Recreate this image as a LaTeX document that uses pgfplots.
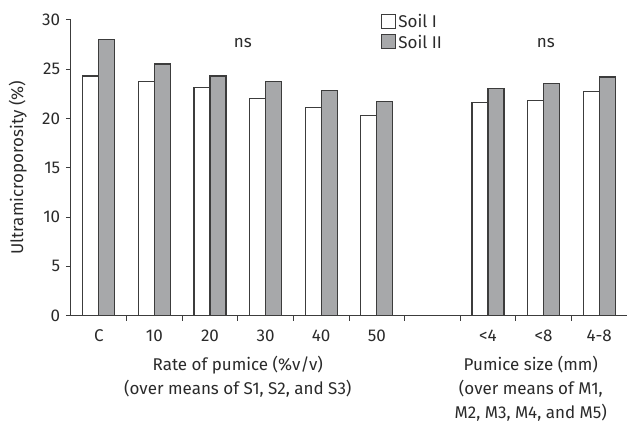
\documentclass[border=0pt]{standalone}
\usepackage{pgfplots}
\pgfplotsset{compat=1.18}
\usepackage{fontspec}
\setmainfont{Fira Sans}
\definecolor{barline}{HTML}{3C3C3C}
\definecolor{bargray}{HTML}{A7A8AA}
\definecolor{txt}{HTML}{2A2A2A}
\begin{document}
\fontsize{17}{20}\selectfont
\begin{tikzpicture}
\useasboundingbox (-71pt,-106.3pt) rectangle (556pt,315.7pt);
\begin{axis}[
    at={(0,0)}, anchor=south west,
    scale only axis,
    width=556pt, height=296pt,
    xmin=-0.5, xmax=9.5,
    ymin=0, ymax=30,
    axis x line*=bottom,
    axis y line*=left,
    axis line style={-, line width=1pt, barline},
    ytick={0,5,...,30},
    xtick={0,1,2,3,4,5,7,8,9},
    xticklabels={C,10,20,30,40,50,{<4},{<8},4-8},
    minor xtick={0.5,1.5,...,8.5},
    major x tick style={draw=none},
    minor tick length=5pt,
    major tick length=5pt,
    tick align=outside,
    tick style={line width=1pt, barline},
    /pgf/number format/assume math mode=true,
    ticklabel style={font=\fontsize{17}{20}\selectfont, text=txt},
    xticklabel style={yshift=-3pt},
    ylabel={Ultramicroporosity (\%)},
    ylabel style={font=\fontsize{17}{20}\selectfont, text=txt, yshift=4pt},
    ybar=0pt,
    bar width=16pt,
    legend style={at={(rel axis cs:0.558,1.026)}, anchor=north west, draw=none, fill=none,
        inner sep=0pt, font=\fontsize{17}{20}\selectfont, text=txt, row sep=1pt},
    legend cell align=left,
    legend image code/.code={\draw[#1, line width=1pt] (0pt,-6pt) rectangle (14pt,8pt);},
    clip=false,
]
\addplot[draw=barline, fill=white, line width=1.2pt] coordinates {
    (0,24.3)(1,23.7)(2,23.1)(3,22.0)(4,21.1)(5,20.3)(7,21.6)(8,21.8)(9,22.7)};
\addplot[draw=barline, fill=bargray, line width=1.2pt] coordinates {
    (0,28.0)(1,25.5)(2,24.3)(3,23.7)(4,22.8)(5,21.7)(7,23.0)(8,23.5)(9,24.2)};
\legend{Soil I, Soil II}
\node[text=txt] at (axis cs:2.59,27.65) {ns};
\node[text=txt] at (axis cs:8.04,27.65) {ns};
\node[align=center, anchor=north, text=txt, font=\fontsize{17}{24}\selectfont] at (axis cs:2.5,0) [yshift=-35pt] {Rate of pumice (\%v/v)\\(over means of  S1, S2, and S3)};
\node[align=center, anchor=north, text=txt, font=\fontsize{17}{24}\selectfont] at (axis cs:7.77,0) [yshift=-35pt] {Pumice size (mm)\\(over means of M1,\\M2, M3, M4, and M5)};
\end{axis}
\end{tikzpicture}
\end{document}
